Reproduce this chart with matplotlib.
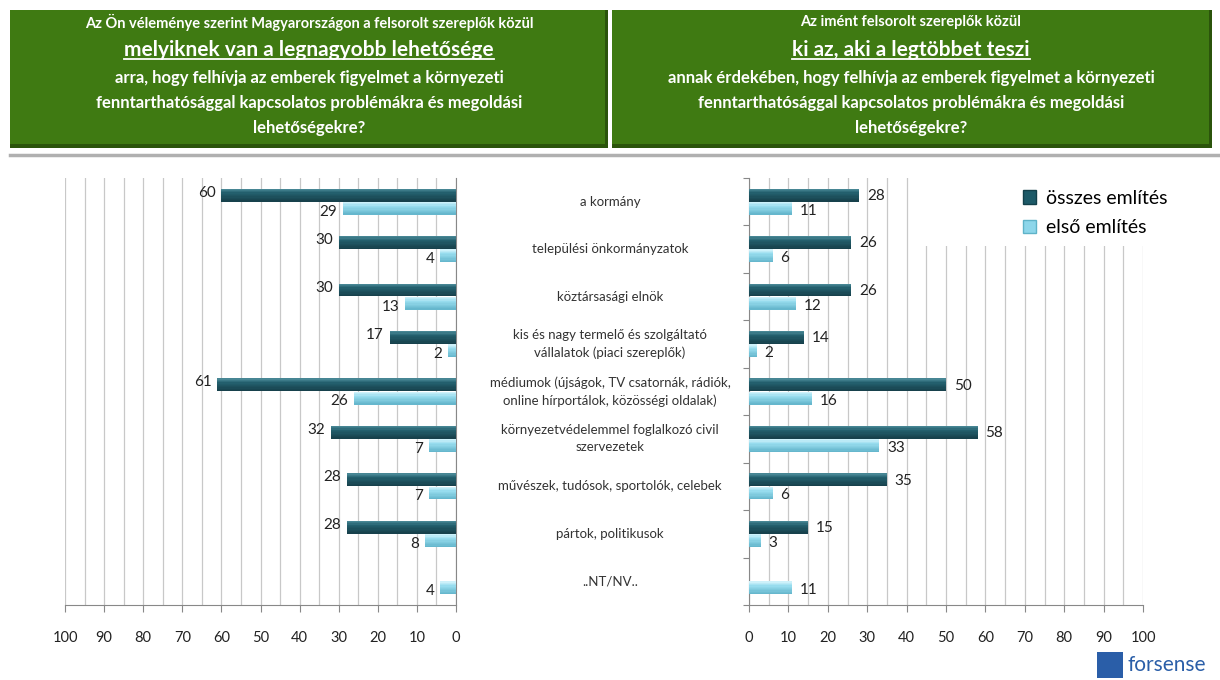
import matplotlib.pyplot as plt
import numpy as np
from matplotlib.patches import Rectangle
from matplotlib.lines import Line2D
from matplotlib.colors import to_rgb

plt.rcParams["font.family"] = ["Lato", "DejaVu Sans"]

categories = [
    "a kormány",
    "települési önkormányzatok",
    "köztársasági elnök",
    "kis és nagy termelő és szolgáltató\nvállalatok (piaci szereplők)",
    "médiumok (újságok, TV csatornák, rádiók,\nonline hírportálok, közösségi oldalak)",
    "környezetvédelemmel foglalkozó civil\nszervezetek",
    "művészek, tudósok, sportolók, celebek",
    "pártok, politikusok",
    "..NT/NV..",
]
left_total = [60, 30, 30, 17, 61, 32, 28, 28, None]
left_first = [29, 4, 13, 2, 26, 7, 7, 8, 4]
right_total = [28, 26, 26, 14, 50, 58, 35, 15, None]
right_first = [11, 6, 12, 2, 16, 33, 6, 3, 11]
ticks = list(range(0, 101, 10))

left_title = ["Az Ön véleménye szerint Magyarországon a felsorolt szereplők közül",
              "melyiknek van a legnagyobb lehetősége",
              "arra, hogy felhívja az emberek figyelmet a környezeti",
              "fenntarthatósággal kapcsolatos problémákra és megoldási",
              "lehetőségekre?"]
right_title = ["Az imént felsorolt szereplők közül",
               "ki az, aki a legtöbbet teszi",
               "annak érdekében, hogy felhívja az emberek figyelmet a környezeti",
               "fenntarthatósággal kapcsolatos problémákra és megoldási",
               "lehetőségekre?"]

DARK = "#1d5a68"
LIGHT = "#8dd6ea"
# top -> middle -> bottom shades for the cylinder look
DARK_SHADES = ["#4d8c9a", "#235f6d", "#163f49"]
LIGHT_SHADES = ["#d6f5fc", "#97dcee", "#62b4ca"]
W, H = 1220, 680

fig = plt.figure(figsize=(12.2, 6.8), dpi=100)


def fx(px):
    return px / W


def fy(py):
    return 1 - py / H


def shade(cols, t):
    a, b, c = (np.array(to_rgb(x)) for x in cols)
    if t < 0.35:
        return a + (b - a) * t / 0.35
    return b + (c - b) * (t - 0.35) / 0.65


# header boxes
for x0, x1 in [(10, 608), (612, 1212)]:
    fig.patches.append(Rectangle((fx(x0), fy(148)), fx(x1 - x0), 138 / H,
                                 transform=fig.transFigure, facecolor="#2b540b",
                                 edgecolor="none", zorder=0))
    fig.patches.append(Rectangle((fx(x0), fy(144)), fx(x1 - x0 - 3), 134 / H,
                                 transform=fig.transFigure, facecolor="#3f7a12",
                                 edgecolor="none", zorder=0))
fig.add_artist(Line2D([fx(10), fx(1218)], [fy(155), fy(155)], color="#b0b0b0", lw=2.5))

line_y = [22, 50, 78, 103, 128]
sizes = [10.5, 15, 12, 12, 12]
underline_txt = []
for cx, lines in [(309, left_title), (911, right_title)]:
    for k, (t, yy, s) in enumerate(zip(lines, line_y, sizes)):
        txt = fig.text(fx(cx), fy(yy), t, ha="center", va="center", color="white",
                       fontsize=s, fontweight="bold")
        if k == 1:
            underline_txt.append(txt)

ax_l = fig.add_axes([fx(65), fy(605), fx(456 - 65), (605 - 178) / H])
ax_r = fig.add_axes([fx(749), fy(605), fx(1143 - 749), (605 - 178) / H])

y = np.arange(len(categories))
off, h = 0.14, 0.27
n_slices = 10


def draw_bars(ax, totals, firsts, side):
    tv = np.array([v if v is not None else 0 for v in totals], dtype=float)
    fv = np.array(firsts, dtype=float)
    for vals, shades, yy in [(tv, DARK_SHADES, y - off), (fv, LIGHT_SHADES, y + off)]:
        dh = h / n_slices
        for k in range(n_slices):
            t = (k + 0.5) / n_slices
            ax.barh(yy - h / 2 + (k + 0.5) * dh, vals, height=dh * 1.05,
                    color=shade(shades, t), linewidth=0, zorder=3)
    for i in range(len(y)):
        if totals[i] is not None:
            if side == "left":
                ax.text(totals[i] + 1.5, y[i] - off - 0.05, str(totals[i]), ha="right",
                        va="center", fontsize=11, color="#222222")
            else:
                ax.text(totals[i] + 2, y[i] - off + 0.02, str(totals[i]), ha="left",
                        va="center", fontsize=11, color="#222222")
        if side == "left":
            ax.text(firsts[i] + 1.5, y[i] + off + 0.07, str(firsts[i]), ha="right",
                    va="center", fontsize=11, color="#222222")
        else:
            ax.text(firsts[i] + 2, y[i] + off + 0.05, str(firsts[i]), ha="left",
                    va="center", fontsize=11, color="#222222")


draw_bars(ax_l, left_total, left_first, "left")
draw_bars(ax_r, right_total, right_first, "right")

for ax in (ax_l, ax_r):
    ax.set_ylim(len(categories) - 0.5, -0.5)
    ax.set_xticks(ticks)
    ax.set_xticks(np.arange(0, 101, 5), minor=True)
    ax.grid(axis="x", which="both", color="#c8c8c8", lw=0.9, zorder=0)
    ax.set_axisbelow(True)
    ax.tick_params(axis="x", which="major", length=5, color="#888888", pad=14,
                   labelsize=10.5, labelcolor="#222222")
    ax.tick_params(axis="x", which="minor", length=0)
    ax.set_yticks(np.arange(-0.5, len(categories), 1.0))
    ax.set_yticklabels([])
    ax.tick_params(axis="y", length=4, color="#888888")
    for s in ax.spines.values():
        s.set_visible(False)
    ax.spines["bottom"].set_visible(True)
    ax.spines["bottom"].set_color("#888888")

ax_l.set_xlim(100, 0)
ax_l.spines["right"].set_visible(True)
ax_l.spines["right"].set_color("#888888")
ax_l.yaxis.tick_right()
ax_l.tick_params(axis="y", length=0)

ax_r.set_xlim(0, 100)
ax_r.spines["left"].set_visible(True)
ax_r.spines["left"].set_color("#888888")

# white area behind legend
ax_r.add_patch(Rectangle((42, -0.5), 60, 1.43, facecolor="white", edgecolor="none",
                         zorder=1, clip_on=False))

handles = [Rectangle((0, 0), 1, 1, facecolor=DARK, edgecolor="#13404a"),
           Rectangle((0, 0), 1, 1, facecolor=LIGHT, edgecolor="#5fb3c8")]
fig.legend(handles, ["összes említés", "első említés"], loc="upper left",
           bbox_to_anchor=(fx(1005), fy(172)), frameon=False, fontsize=14,
           handlelength=0.7, handleheight=0.7, handletextpad=0.5, labelspacing=0.65)

# category labels
for i, c in enumerate(categories):
    ypix = 178 + (i + 0.5) * (605 - 178) / len(categories)
    fig.text(fx(610), fy(ypix), c, ha="center", va="center", fontsize=9.5,
             color="#333333", linespacing=1.5)

# logo
fig.patches.append(Rectangle((fx(1097), fy(678)), fx(26), 26 / H, transform=fig.transFigure,
                             facecolor="#2a5ea8", edgecolor="none"))
fig.text(fx(1128), fy(665), "forsense", ha="left", va="center", fontsize=15, color="#2a5ea8")

# underline the emphasized title lines
fig.canvas.draw()
inv = fig.transFigure.inverted()
for txt in underline_txt:
    bb = txt.get_window_extent().transformed(inv)
    fig.add_artist(Line2D([bb.x0, bb.x1], [bb.y0 + 0.002, bb.y0 + 0.002], color="white", lw=1.3))

fig.savefig("out.png", dpi=100)
